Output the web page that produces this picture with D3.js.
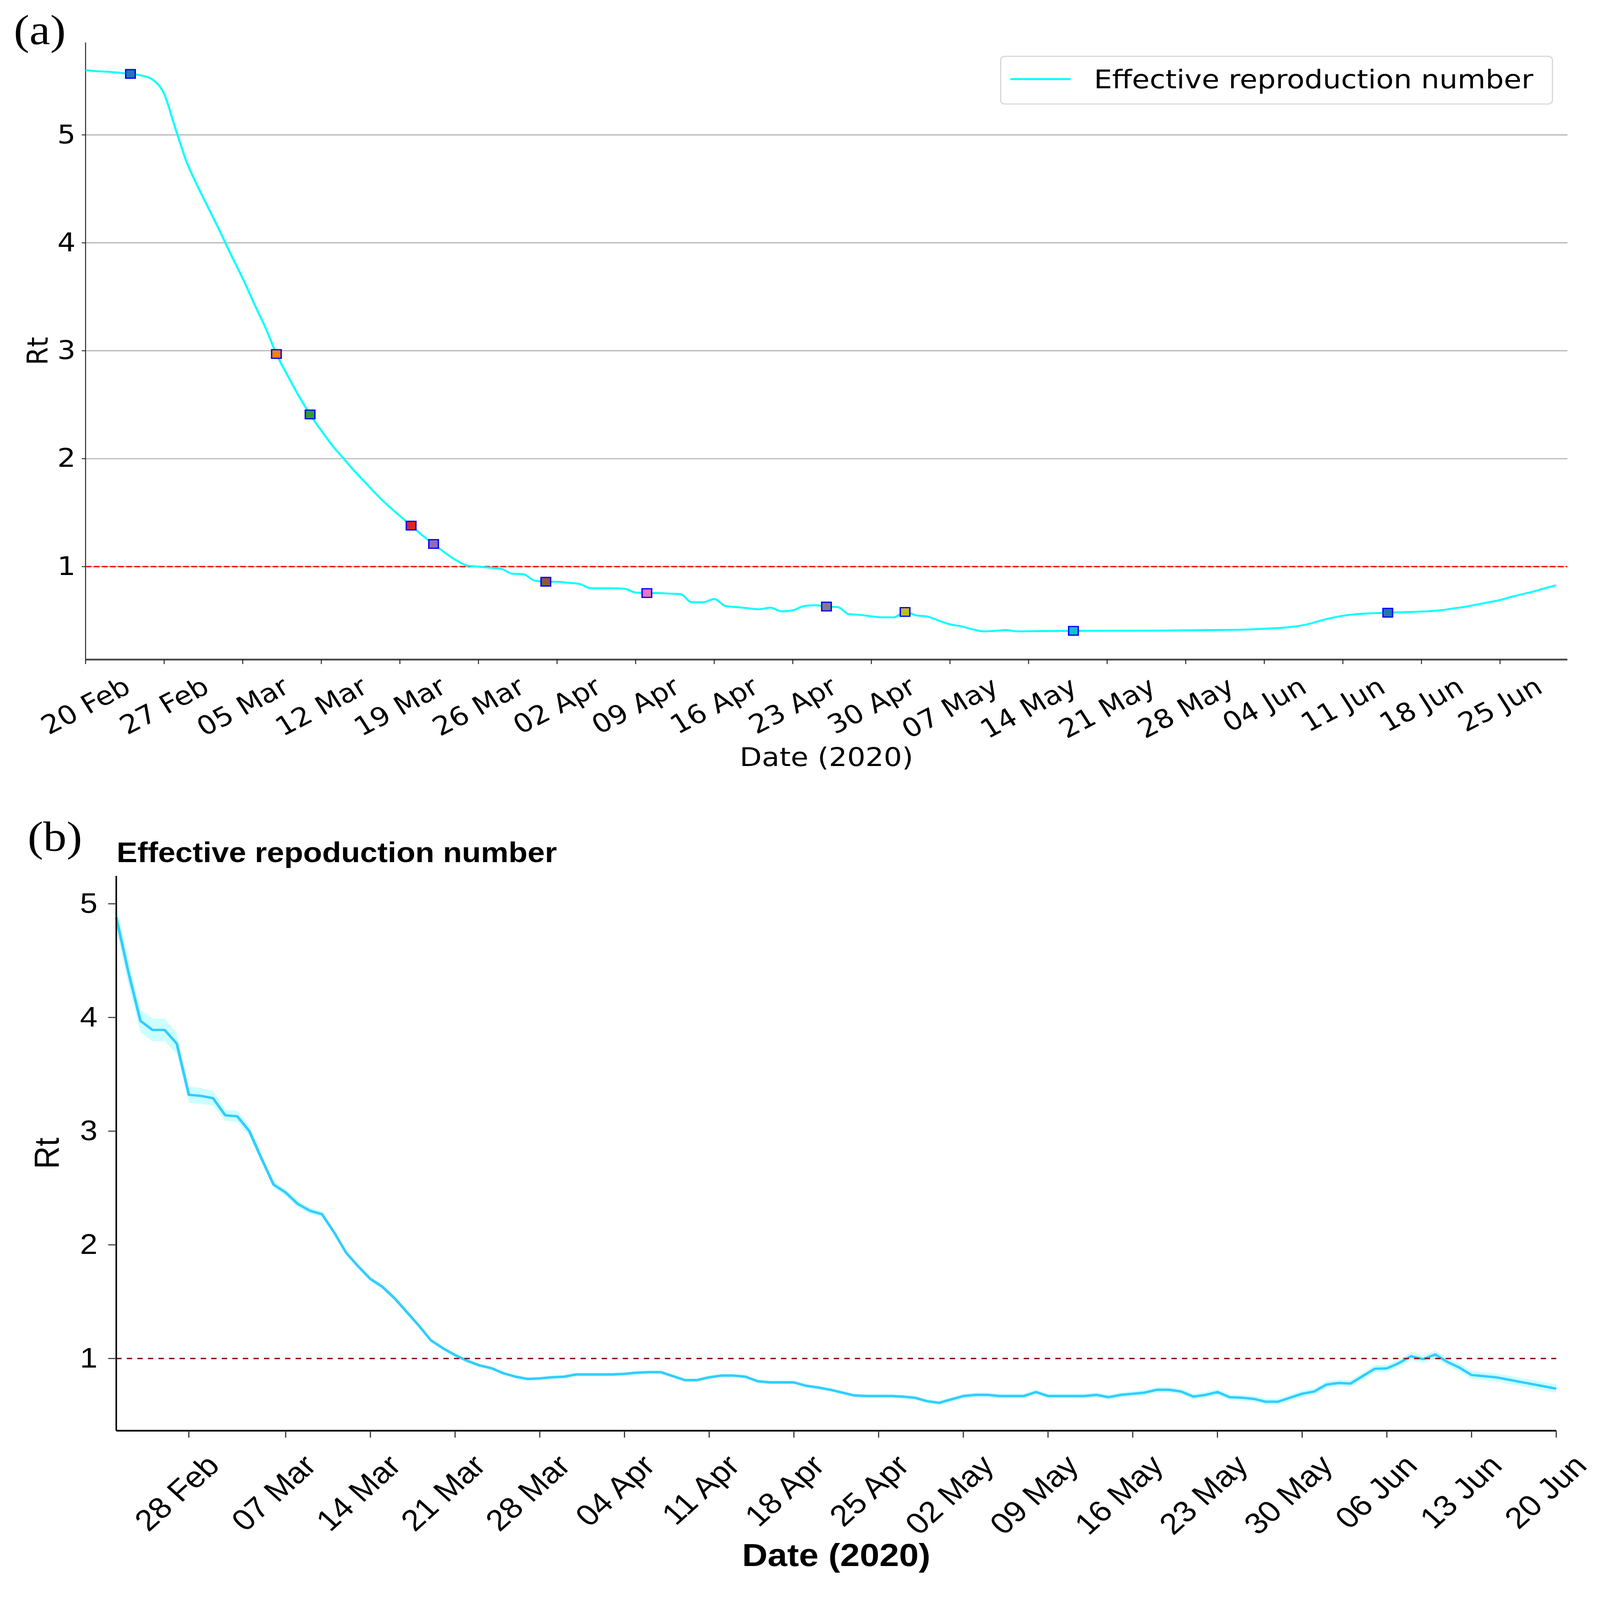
<!DOCTYPE html>
<html><head><meta charset="utf-8">
<script src="https://cdn.jsdelivr.net/npm/d3@7/dist/d3.min.js"></script>
<style>html,body{margin:0;padding:0;overflow:hidden;background:#fff}svg{display:block;width:100vw;height:100vh}</style>
</head><body>
<svg id="chart" viewBox="0 0 4170 4631" preserveAspectRatio="none"></svg>
<script>
// ---------- Panel (a) data ----------
const startA = "2020-02-20";
const endA = "2020-07-01";
const dayA = [0,1,2,3,4,5,6,7,8,9,10,11,12,13,14,15,16,17,18,19,20,21,22,23,24,25,26,27,28,29,30,31,32,33,34,35,36,37,38,39,40,41,42,43,44,45,46,47,48,49,50,51,52,53,54,55,56,57,58,59,60,61,62,63,64,65,66,67,68,69,70,71,72,73,74,75,76,77,78,79,80,81,82,83,85,88,92,96,100,103,105,107,108,109,110,111,112,113,114,116,118,120,121,122,123,124,125,126,127,128,129,130,131];
const rtA = [5.60,5.59,5.585,5.575,5.565,5.55,5.51,5.38,5.06,4.75,4.52,4.31,4.10,3.88,3.67,3.44,3.22,2.97,2.77,2.58,2.41,2.26,2.12,2.00,1.88,1.77,1.66,1.56,1.47,1.38,1.29,1.21,1.13,1.06,1.01,1.00,0.99,0.98,0.935,0.93,0.87,0.86,0.86,0.85,0.84,0.80,0.80,0.80,0.795,0.76,0.755,0.755,0.75,0.745,0.67,0.67,0.70,0.635,0.625,0.615,0.605,0.62,0.585,0.595,0.635,0.642,0.63,0.625,0.56,0.553,0.54,0.53,0.53,0.58,0.548,0.537,0.50,0.465,0.447,0.42,0.40,0.405,0.412,0.40,0.403,0.405,0.406,0.408,0.412,0.416,0.425,0.437,0.45,0.47,0.50,0.525,0.545,0.558,0.565,0.573,0.58,0.59,0.60,0.615,0.63,0.65,0.67,0.69,0.72,0.745,0.77,0.80,0.827];
const markerDayA = [4,17,20,29,31,41,50,66,73,88,116];
const markerRtA = [5.565,2.97,2.41,1.38,1.21,0.86,0.755,0.63,0.58,0.405,0.573];
const tickDatesA = ["2020-02-20","2020-02-27","2020-03-05","2020-03-12","2020-03-19","2020-03-26","2020-04-02","2020-04-09","2020-04-16","2020-04-23","2020-04-30","2020-05-07","2020-05-14","2020-05-21","2020-05-28","2020-06-04","2020-06-11","2020-06-18","2020-06-25"];
const yTicksA = [1,2,3,4,5];
const yDomainA = [0.139, 5.856];

// ---------- Panel (b) data ----------
const startB = "2020-02-22";
const endB = "2020-06-20";
const rtB = [4.88,4.40,3.97,3.89,3.89,3.77,3.32,3.31,3.29,3.14,3.13,3.00,2.76,2.53,2.46,2.36,2.30,2.27,2.11,1.93,1.81,1.70,1.63,1.53,1.41,1.29,1.16,1.09,1.03,0.98,0.94,0.915,0.87,0.84,0.82,0.825,0.835,0.84,0.86,0.86,0.86,0.86,0.865,0.875,0.88,0.88,0.845,0.81,0.81,0.835,0.85,0.85,0.84,0.80,0.79,0.79,0.79,0.76,0.745,0.725,0.70,0.675,0.67,0.67,0.67,0.665,0.655,0.625,0.61,0.64,0.67,0.68,0.68,0.67,0.67,0.67,0.705,0.67,0.67,0.67,0.67,0.68,0.66,0.68,0.69,0.70,0.725,0.725,0.71,0.665,0.68,0.705,0.66,0.655,0.645,0.62,0.62,0.655,0.69,0.71,0.77,0.785,0.78,0.845,0.91,0.913,0.96,1.02,0.995,1.035,0.97,0.92,0.855,0.845,0.835,0.815,0.795,0.775,0.755,0.735];
const ciHalfB = [0.11,0.11,0.10,0.10,0.10,0.09,0.07,0.07,0.065,0.05,0.05,0.045,0.035,0.03,0.03,0.03,0.028,0.026,0.022,0.02,0.02,0.02,0.02,0.02,0.018,0.018,0.018,0.018,0.018,0.017,0.017,0.016,0.016,0.016,0.016,0.016,0.016,0.016,0.016,0.016,0.016,0.016,0.016,0.016,0.016,0.016,0.016,0.016,0.016,0.016,0.016,0.016,0.016,0.016,0.016,0.016,0.016,0.016,0.016,0.016,0.016,0.016,0.018,0.018,0.018,0.018,0.018,0.018,0.018,0.02,0.02,0.02,0.02,0.02,0.02,0.02,0.02,0.02,0.02,0.02,0.022,0.022,0.022,0.022,0.022,0.024,0.024,0.024,0.024,0.025,0.025,0.025,0.026,0.026,0.026,0.027,0.027,0.028,0.028,0.028,0.03,0.03,0.03,0.03,0.032,0.032,0.032,0.034,0.034,0.035,0.035,0.035,0.035,0.035,0.035,0.036,0.036,0.036,0.037,0.037];
const tickDatesB = ["2020-02-28","2020-03-07","2020-03-14","2020-03-21","2020-03-28","2020-04-04","2020-04-11","2020-04-18","2020-04-25","2020-05-02","2020-05-09","2020-05-16","2020-05-23","2020-05-30","2020-06-06","2020-06-13","2020-06-20"];
const yTicksB = [1,2,3,4,5];
const yDomainB = [0.365, 5.246];

// ---------- helpers ----------
const parse = d3.utcParse("%Y-%m-%d");
const fmt = d3.utcFormat("%d %b");
const svg = d3.select("#chart");
svg.append("rect").attr("width",4170).attr("height",4631).attr("fill","#fff");

// ================= Panel (a) =================
const A = {l:223, r:4085, t:123, b:1909};
const fontA = "DejaVu Sans";
const xA = d3.scaleUtc().domain([parse(startA), parse(endA)]).range([A.l, A.r]);
const yA = d3.scaleLinear().domain(yDomainA).range([A.b, A.t]);
const gA = svg.append("g");

gA.append("g").selectAll("line").data(yTicksA).join("line")
  .attr("x1",A.l).attr("x2",A.r).attr("y1",d=>yA(d)).attr("y2",d=>yA(d))
  .attr("stroke","#b0b0b0").attr("stroke-width",3);

const yAxA = gA.append("g").attr("transform",`translate(${A.l},0)`)
  .call(d3.axisLeft(yA).tickValues(yTicksA).tickFormat(d3.format("d")).tickSize(10).tickPadding(16).tickSizeOuter(0).offset(0));
yAxA.select(".domain").attr("stroke","#222").attr("stroke-width",2.5);
yAxA.selectAll(".tick line").attr("stroke","#222").attr("stroke-width",2.5);
yAxA.selectAll(".tick text").attr("font-family",fontA).attr("font-size",75).attr("fill","#000");

const xAxA = gA.append("g").attr("transform",`translate(0,${A.b})`)
  .call(d3.axisBottom(xA).tickValues(tickDatesA.map(parse)).tickFormat(fmt).tickSize(13).tickPadding(0).tickSizeOuter(0).offset(0));
xAxA.select(".domain").attr("stroke","#444").attr("stroke-width",5);
xAxA.selectAll(".tick line").attr("stroke","#222").attr("stroke-width",2.5);
xAxA.selectAll(".tick text").attr("font-family",fontA).attr("font-size",75).attr("fill","#000")
  .attr("text-anchor","middle").attr("dominant-baseline","central").attr("dy",null)
  .each(function(){
    const W = this.getComputedTextLength();
    const H = 75*1.10;
    const bh = W*0.5 + H*0.866;
    const cy = 13 + 22 + bh/2;
    d3.select(this).attr("y",null).attr("transform",`translate(0,${cy}) rotate(-30)`);
  });

gA.append("line").attr("x1",A.l).attr("x2",A.r).attr("y1",yA(1)).attr("y2",yA(1))
  .attr("stroke","#ff0000").attr("stroke-width",4).attr("stroke-dasharray","14.8 6.4");

const ptsA = dayA.map((d,i)=>({date:d3.utcDay.offset(parse(startA), d), v:rtA[i]}));
gA.append("path").datum(ptsA)
  .attr("d", d3.line().x(p=>xA(p.date)).y(p=>yA(p.v)).curve(d3.curveMonotoneX))
  .attr("fill","none").attr("stroke","#00ffff").attr("stroke-width",5.5);

const mA = markerDayA.map((d,i)=>({date:d3.utcDay.offset(parse(startA), d), v:markerRtA[i], c:d3.schemeCategory10[i%10]}));
gA.append("g").selectAll("rect").data(mA).join("rect")
  .attr("x",p=>xA(p.date)-12.5).attr("y",p=>yA(p.v)-12.5).attr("width",25).attr("height",25)
  .attr("fill",p=>p.c).attr("stroke","#0000ff").attr("stroke-width",3.5);

gA.append("text").attr("x",(A.l+A.r)/2).attr("y",2217).attr("text-anchor","middle")
  .attr("font-family",fontA).attr("font-size",75).text("Date (2020)");
gA.append("text").attr("transform",`translate(124,${(A.t+A.b)/2}) rotate(-90)`).attr("text-anchor","middle")
  .attr("font-family",fontA).attr("font-size",75).text("Rt");

const lg = gA.append("g");
lg.append("rect").attr("x",2608).attr("y",163).attr("width",1438).attr("height",138).attr("rx",11)
  .attr("fill","#fff").attr("fill-opacity",0.8).attr("stroke","#d5d5d5").attr("stroke-width",3);
lg.append("line").attr("x1",2633).attr("x2",2790).attr("y1",229).attr("y2",229).attr("stroke","#00ffff").attr("stroke-width",5.5);
lg.append("text").attr("x",2851).attr("y",255).attr("font-family",fontA).attr("font-size",75).text("Effective reproduction number");

svg.append("text").attr("x",36).attr("y",128).attr("font-family","Liberation Serif").attr("font-size",122).text("(a)");

// ================= Panel (b) =================
const B = {l:303, r:4056, t:2535, b:4141};
const fontB = "Liberation Sans";
const xB = d3.scaleUtc().domain([parse(startB), parse(endB)]).range([B.l, B.r]);
const yB = d3.scaleLinear().domain(yDomainB).range([B.b, B.t]);
const gB = svg.append("g");

const ptsB = rtB.map((v,i)=>({date:d3.utcDay.offset(parse(startB), i), v:v, lo:v-ciHalfB[i], hi:v+ciHalfB[i]}));
gB.append("path").datum(ptsB)
  .attr("d", d3.area().x(p=>xB(p.date)).y0(p=>yB(p.lo)).y1(p=>yB(p.hi)))
  .attr("fill","#ccffff");
gB.append("path").datum(ptsB)
  .attr("d", d3.line().x(p=>xB(p.date)).y(p=>yB(p.v)))
  .attr("fill","none").attr("stroke","#33ccff").attr("stroke-width",7).attr("stroke-linejoin","round");

gB.append("line").attr("x1",B.l).attr("x2",B.r).attr("y1",yB(1)).attr("y2",yB(1))
  .attr("stroke","#8b0000").attr("stroke-width",4).attr("stroke-dasharray","14 13.5");

const yAxB = gB.append("g").attr("transform",`translate(${B.l},0)`)
  .call(d3.axisLeft(yB).tickValues(yTicksB).tickFormat(d3.format("d")).tickSize(21).tickPadding(28).tickSizeOuter(0).offset(0));
yAxB.select(".domain").attr("stroke","#000").attr("stroke-width",4);
yAxB.selectAll(".tick line").attr("stroke","#333").attr("stroke-width",3);
yAxB.selectAll(".tick text").attr("font-family",fontB).attr("font-size",82).attr("fill","#000");

const xAxB = gB.append("g").attr("transform",`translate(0,${B.b})`)
  .call(d3.axisBottom(xB).tickValues(tickDatesB.map(parse)).tickFormat(fmt).tickSize(20).tickSizeOuter(0).offset(0));
xAxB.select(".domain").attr("stroke","#000").attr("stroke-width",5);
xAxB.selectAll(".tick line").attr("stroke","#333").attr("stroke-width",3);
xAxB.selectAll(".tick text").attr("font-family",fontB).attr("font-size",86).attr("fill","#000")
  .attr("text-anchor","end").attr("dy",null).attr("y",null)
  .attr("transform","translate(84,106) rotate(-45)");

gB.append("text").attr("x",(B.l+B.r)/2).attr("y",4533).attr("text-anchor","middle")
  .attr("font-family",fontB).attr("font-weight","bold").attr("font-size",92).text("Date (2020)");
gB.append("text").attr("transform",`translate(153,${(B.t+B.b)/2}) rotate(-90)`).attr("text-anchor","middle")
  .attr("font-family",fontB).attr("font-size",91).text("Rt");
gB.append("text").attr("x",304).attr("y",2495).attr("font-family",fontB).attr("font-weight","bold")
  .attr("font-size",81).text("Effective repoduction number");

svg.append("text").attr("x",72).attr("y",2462).attr("font-family","Liberation Serif").attr("font-size",122).text("(b)");
</script>
</body></html>
